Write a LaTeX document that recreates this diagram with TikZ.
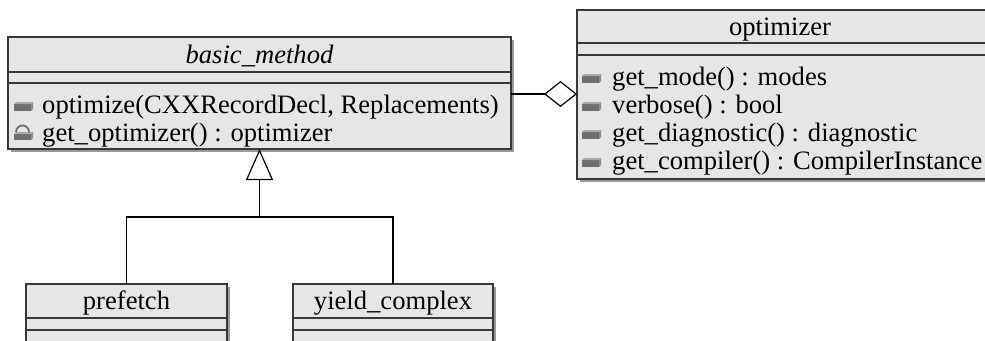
\documentclass[tikz,border=0pt]{standalone}
\usepackage{fontspec}
\setmainfont{Liberation Serif}
\usetikzlibrary{arrows.meta,shadows}
\definecolor{boxfill}{HTML}{E6E6E6}
\definecolor{boxline}{HTML}{383838}
\definecolor{iconc}{HTML}{6E6E6E}
\definecolor{icontop}{HTML}{A8A8A8}
\definecolor{iconside}{HTML}{8C8C8C}
\begin{document}
\begin{tikzpicture}[x=1pt,y=-1pt,
  cls/.style={draw=boxline, fill=boxfill, line width=1.3pt, inner sep=0pt, outer sep=0pt,
    anchor=north west, drop shadow={shadow xshift=3pt,shadow yshift=-3pt,fill=black!40,opacity=1}},
  sepline/.style={draw=boxline, line width=1.3pt},
  txt/.style={font=\fontsize{26.6}{28}\selectfont, inner sep=0pt, anchor=base west},
  ttl/.style={font=\fontsize{26.6}{28}\selectfont, inner sep=0pt, anchor=base},
  conn/.style={draw=black, line width=1.2pt},
  priv/.pic={
    \fill[iconc] (0,-3) rectangle (17,4);
    \fill[icontop] (0,-3) -- (2,-5) -- (19,-5) -- (17,-3) -- cycle;
    \fill[iconside] (17,-3) -- (19,-5) -- (19,2) -- (17,4) -- cycle;
  },
  prot/.pic={
    \fill[iconc] (0,-1) rectangle (17,5);
    \fill[icontop] (0,-1) -- (2,-3) -- (19,-3) -- (17,-1) -- cycle;
    \fill[iconside] (17,-1) -- (19,-3) -- (19,3) -- (17,5) -- cycle;
    \draw[iconc, line width=1.8pt] (2,-3) arc[start angle=180, end angle=360, radius=6.5];
  }]
\useasboundingbox (0,0) rectangle (985,340);
\clip (0,0) rectangle (985,340);

% basic_method
\node[cls, minimum width=503pt, minimum height=112pt] (bm) at (8,37) {};
\coordinate (bm1y) at (0,72);
\coordinate (bm2y) at (0,83);
\draw[sepline] (bm.west |- bm1y) -- (bm.east |- bm1y);
\draw[sepline] (bm.west |- bm2y) -- (bm.east |- bm2y);
\node[ttl] (bmt) at (259.5,63) {\itshape basic\_method};
\pic at (14,107) {priv};
\node[txt] (bmm1) at (42,113) {optimize(CXXRecordDecl, Replacements)};
\pic at (14,135) {prot};
\node[txt] (bmm2) at (42,141) {get\_optimizer() : optimizer};

% optimizer
\node[cls, minimum width=413pt, minimum height=169pt] (opt) at (577,10) {};
\coordinate (op1y) at (0,43);
\coordinate (op2y) at (0,55);
\draw[sepline] (opt.west |- op1y) -- (opt.east |- op1y);
\draw[sepline] (opt.west |- op2y) -- (opt.east |- op2y);
\node[ttl] (optt) at (780,35) {optimizer};
\pic at (582,79) {priv};
\node[txt] (opm1) at (612,85) {get\_mode() : modes};
\pic at (582,107) {priv};
\node[txt] (opm2) at (612,113) {verbose() : bool};
\pic at (582,135) {priv};
\node[txt] (opm3) at (612,141) {get\_diagnostic() : diagnostic};
\pic at (582,163) {priv};
\node[txt] (opm4) at (612,169) {get\_compiler() : CompilerInstance};

% prefetch
\node[cls, minimum width=201pt, minimum height=80pt] (pf) at (26,284) {};
\coordinate (b1y) at (0,318);
\coordinate (b2y) at (0,330);
\draw[sepline] (pf.west |- b1y) -- (pf.east |- b1y);
\draw[sepline] (pf.west |- b2y) -- (pf.east |- b2y);
\node[ttl] (pft) at (126.5,309) {prefetch};

% yield_complex
\node[cls, minimum width=200pt, minimum height=80pt] (yc) at (293,284) {};
\draw[sepline] (yc.west |- b1y) -- (yc.east |- b1y);
\draw[sepline] (yc.west |- b2y) -- (yc.east |- b2y);
\node[ttl] (yct) at (393,309) {yield\_complex};

% aggregation
\coordinate (ay) at (0,94);
\draw[conn, -{Diamond[length=33pt, width=26pt, fill=white, line width=1.2pt]}] (bm.east |- ay) -- (opt.west |- ay);

% inheritance
\coordinate (jy) at (0,217);
\coordinate (jn) at (bm.south |- jy);
\draw[conn, -{Triangle[length=31pt, width=27pt, fill=white, line width=1.2pt]}] (pf.north) |- (jn) -- (bm.south);
\draw[conn] (yc.north) |- (jn);
\end{tikzpicture}
\end{document}
